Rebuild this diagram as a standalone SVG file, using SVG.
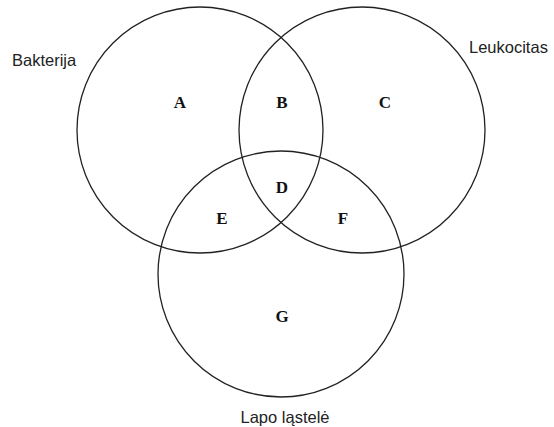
<svg xmlns="http://www.w3.org/2000/svg" width="554" height="427" viewBox="0 0 554 427">
<style>
.c{fill:none;stroke:#222;stroke-width:1.3}
.l{font-family:"Liberation Serif",serif;font-weight:bold;font-size:17px;text-anchor:middle;fill:#111}
.s{font-family:"Liberation Sans",Arial,sans-serif;font-size:16.5px;fill:#222}
</style>
<rect width="554" height="427" fill="#fff"/>
<g id="set-bakterija"><circle class="c" cx="200" cy="130" r="123"/><text class="s" x="12" y="66">Bakterija</text></g>
<g id="set-leukocitas"><circle class="c" cx="362" cy="130" r="123"/><text class="s" x="469" y="53">Leukocitas</text></g>
<g id="set-lapo"><circle class="c" cx="281" cy="274" r="123"/><text class="s" x="285" y="423" text-anchor="middle">Lapo ląstelė</text></g>
<g id="regions">
<text class="l" x="180" y="108">A</text>
<text class="l" x="282" y="108">B</text>
<text class="l" x="385" y="108">C</text>
<text class="l" x="282" y="193">D</text>
<text class="l" x="222" y="224">E</text>
<text class="l" x="343" y="224">F</text>
<text class="l" x="282" y="322">G</text>
</g>
</svg>
